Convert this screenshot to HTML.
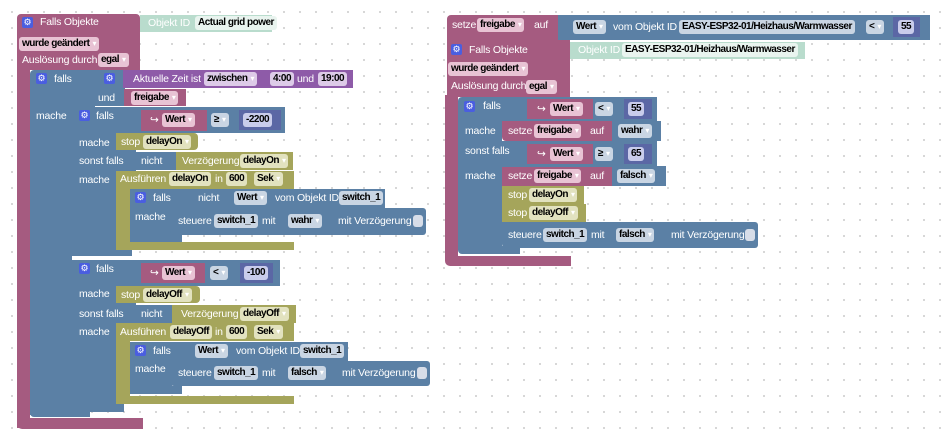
<!DOCTYPE html>
<html><head><meta charset="utf-8"><style>
body{margin:0;width:947px;height:440px;overflow:hidden;background:#fff;background-image:radial-gradient(circle,#cfcfcf 0.8px,transparent 1.2px);background-size:16px 16px;background-position:4px 4px;position:relative;font-family:"Liberation Sans",sans-serif}
.r{position:absolute}
.P{background:#a55b80}.B{background:#5b80a5}.O{background:#a5a55b}.V{background:#8e5ba8}.M{background:#b9dccd}.N{background:#5b67a5}
.t{position:absolute;color:#fff;font-size:10.5px;letter-spacing:-0.2px;line-height:14px;white-space:nowrap}
.f{position:absolute;height:14px;line-height:14px;font-size:10px;letter-spacing:-0.5px;font-weight:bold;color:#000;padding:0 3px;border-radius:3px;white-space:nowrap}
.fp{background:#e8c3d4}.fb{background:#c9d5e3}.fo{background:#e2e2bf}.fv{background:#ddcbe8}.fn{background:#c9cceb}.fm{background:#e9f4ef}
.f i{font-style:normal;font-weight:normal;color:#fff;font-size:8px;margin-left:3px}
.g{position:absolute;width:11px;height:11px;background:#4a5ee0;border-radius:2px;color:#fff;font-size:9px;line-height:11px;text-align:center}
.cb{position:absolute;width:10px;height:12px;background:#d7dde8;border-radius:3px}
</style></head><body>

<!-- LEFT EVENT BLOCK -->
<div class="r P" style="left:17px;top:14px;width:123px;height:56px;border-radius:4px 4px 0 0"></div>
<div class="r P" style="left:17px;top:68px;width:13px;height:360px"></div>
<div class="r P" style="left:17px;top:418px;width:126px;height:11px;border-radius:0 0 0 5px"></div>
<div class="g" style="left:22px;top:17px">⚙</div>
<div class="t" style="left:40px;top:15px">Falls Objekte</div>
<div class="r M" style="left:140px;top:15px;width:132px;height:17px"></div>
<div class="t" style="left:148px;top:16px">Objekt ID</div>
<div class="f fm" style="left:195px;top:16px">Actual grid power</div>
<div class="f fp" style="left:19px;top:37px">wurde geändert<i>▾</i></div>
<div class="t" style="left:22px;top:53px">Auslösung durch</div>
<div class="f fp" style="left:98px;top:53px">egal<i>▾</i></div>

<!-- outer falls -->
<div class="r B" style="left:30px;top:70px;width:65px;height:37px;border-radius:4px 0 0 0"></div>
<div class="r B" style="left:30px;top:105px;width:42px;height:310px"></div>
<div class="r B" style="left:30px;top:409px;width:60px;height:8px;border-radius:0 0 0 4px"></div>
<div class="g" style="left:36px;top:73px">⚙</div>
<div class="t" style="left:54px;top:72px">falls</div>
<div class="t" style="left:36px;top:109px">mache</div>
<!-- und block -->
<div class="r B" style="left:90px;top:70px;width:35px;height:36px"></div>
<div class="g" style="left:104px;top:73px">⚙</div>
<div class="t" style="left:98px;top:91px">und</div>
<div class="r V" style="left:123px;top:70px;width:230px;height:18px"></div>
<div class="t" style="left:133px;top:72px">Aktuelle Zeit ist</div>
<div class="f fv" style="left:204px;top:72px">zwischen<i>▾</i></div>
<div class="f fv" style="left:270px;top:72px">4:00</div>
<div class="t" style="left:297px;top:72px">und</div>
<div class="f fv" style="left:318px;top:72px">19:00</div>
<div class="r P" style="left:124px;top:89px;width:62px;height:17px"></div>
<div class="f fp" style="left:131px;top:91px">freigabe<i>▾</i></div>

<!-- first inner falls -->
<div class="r B" style="left:72px;top:107px;width:213px;height:26px"></div>
<div class="r B" style="left:72px;top:130px;width:44px;height:122px"></div>
<div class="r B" style="left:110px;top:150px;width:26px;height:21px"></div>
<div class="r B" style="left:72px;top:248px;width:60px;height:8px"></div>
<div class="g" style="left:79px;top:110px">⚙</div>
<div class="t" style="left:96px;top:109px">falls</div>
<div class="r P" style="left:141px;top:110px;width:66px;height:21px"></div>
<div class="t" style="left:150px;top:113px">↪</div>
<div class="f fp" style="left:162px;top:113px">Wert<i>▾</i></div>
<div class="f fb" style="left:211px;top:113px">≥<i>▾</i></div>
<div class="r N" style="left:239px;top:110px;width:42px;height:20px"></div>
<div class="f fn" style="left:243px;top:113px">-2200</div>
<div class="t" style="left:79px;top:136px">mache</div>
<div class="r O" style="left:116px;top:133px;width:82px;height:17px;border-radius:0 4px 4px 0"></div>
<div class="t" style="left:121px;top:135px">stop</div>
<div class="f fo" style="left:143px;top:135px">delayOn<i>▾</i></div>
<div class="t" style="left:79px;top:154px">sonst falls</div>
<div class="r B" style="left:133px;top:152px;width:45px;height:18px"></div>
<div class="t" style="left:141px;top:154px">nicht</div>
<div class="r O" style="left:176px;top:152px;width:117px;height:18px"></div>
<div class="t" style="left:182px;top:154px">Verzögerung</div>
<div class="f fo" style="left:240px;top:154px">delayOn<i>▾</i></div>
<div class="t" style="left:79px;top:173px">mache</div>
<div class="r O" style="left:116px;top:171px;width:178px;height:18px"></div>
<div class="r O" style="left:116px;top:186px;width:14px;height:60px"></div>
<div class="r O" style="left:116px;top:242px;width:178px;height:8px"></div>
<div class="t" style="left:120px;top:172px">Ausführen</div>
<div class="f fo" style="left:169px;top:172px">delayOn</div>
<div class="t" style="left:215px;top:172px">in</div>
<div class="f fo" style="left:226px;top:172px">600</div>
<div class="f fo" style="left:254px;top:172px">Sek<i>▾</i></div>
<!-- nested falls 1 -->
<div class="r B" style="left:130px;top:189px;width:255px;height:19px"></div>
<div class="r B" style="left:130px;top:205px;width:42px;height:32px"></div>
<div class="r B" style="left:130px;top:234px;width:52px;height:8px"></div>
<div class="g" style="left:135px;top:192px">⚙</div>
<div class="t" style="left:153px;top:191px">falls</div>
<div class="t" style="left:198px;top:191px">nicht</div>
<div class="f fb" style="left:234px;top:191px">Wert<i>▾</i></div>
<div class="t" style="left:275px;top:191px">vom Objekt ID</div>
<div class="f fb" style="left:339px;top:191px">switch_1</div>
<div class="t" style="left:135px;top:210px">mache</div>
<div class="r B" style="left:170px;top:208px;width:256px;height:27px;border-radius:0 3px 3px 4px"></div>
<div class="t" style="left:178px;top:214px">steuere</div>
<div class="f fb" style="left:214px;top:214px">switch_1</div>
<div class="t" style="left:262px;top:214px">mit</div>
<div class="f fb" style="left:288px;top:214px">wahr<i>▾</i></div>
<div class="t" style="left:338px;top:214px">mit Verzögerung</div>
<div class="cb" style="left:413px;top:215px"></div>

<!-- second inner falls -->
<div class="r B" style="left:72px;top:260px;width:208px;height:26px"></div>
<div class="r B" style="left:72px;top:284px;width:44px;height:122px"></div>
<div class="r B" style="left:110px;top:303px;width:26px;height:21px"></div>
<div class="r B" style="left:72px;top:404px;width:52px;height:8px"></div>
<div class="g" style="left:79px;top:263px">⚙</div>
<div class="t" style="left:96px;top:262px">falls</div>
<div class="r P" style="left:141px;top:263px;width:64px;height:20px"></div>
<div class="t" style="left:150px;top:266px">↪</div>
<div class="f fp" style="left:162px;top:266px">Wert<i>▾</i></div>
<div class="f fb" style="left:210px;top:266px">&lt;<i>▾</i></div>
<div class="r N" style="left:240px;top:263px;width:33px;height:20px"></div>
<div class="f fn" style="left:244px;top:266px">-100</div>
<div class="t" style="left:79px;top:287px">mache</div>
<div class="r O" style="left:116px;top:286px;width:84px;height:17px;border-radius:0 4px 4px 0"></div>
<div class="t" style="left:121px;top:288px">stop</div>
<div class="f fo" style="left:143px;top:288px">delayOff<i>▾</i></div>
<div class="t" style="left:79px;top:307px">sonst falls</div>
<div class="r B" style="left:133px;top:305px;width:42px;height:18px"></div>
<div class="t" style="left:141px;top:307px">nicht</div>
<div class="r O" style="left:172px;top:305px;width:124px;height:18px"></div>
<div class="t" style="left:181px;top:307px">Verzögerung</div>
<div class="f fo" style="left:240px;top:307px">delayOff<i>▾</i></div>
<div class="t" style="left:79px;top:325px">mache</div>
<div class="r O" style="left:116px;top:323px;width:178px;height:18px"></div>
<div class="r O" style="left:116px;top:338px;width:14px;height:62px"></div>
<div class="r O" style="left:116px;top:396px;width:178px;height:8px"></div>
<div class="t" style="left:120px;top:325px">Ausführen</div>
<div class="f fo" style="left:170px;top:325px">delayOff</div>
<div class="t" style="left:215px;top:325px">in</div>
<div class="f fo" style="left:226px;top:325px">600</div>
<div class="f fo" style="left:254px;top:325px">Sek<i>▾</i></div>
<!-- nested falls 2 -->
<div class="r B" style="left:130px;top:342px;width:218px;height:19px"></div>
<div class="r B" style="left:130px;top:358px;width:42px;height:32px"></div>
<div class="r B" style="left:130px;top:386px;width:52px;height:8px"></div>
<div class="g" style="left:135px;top:345px">⚙</div>
<div class="t" style="left:153px;top:344px">falls</div>
<div class="f fb" style="left:195px;top:344px">Wert<i>▾</i></div>
<div class="t" style="left:236px;top:344px">vom Objekt ID</div>
<div class="f fb" style="left:300px;top:344px">switch_1</div>
<div class="t" style="left:135px;top:362px">mache</div>
<div class="r B" style="left:170px;top:361px;width:260px;height:25px;border-radius:0 3px 3px 4px"></div>
<div class="t" style="left:178px;top:366px">steuere</div>
<div class="f fb" style="left:214px;top:366px">switch_1</div>
<div class="t" style="left:262px;top:366px">mit</div>
<div class="f fb" style="left:288px;top:366px">falsch<i>▾</i></div>
<div class="t" style="left:342px;top:366px">mit Verzögerung</div>
<div class="cb" style="left:417px;top:367px"></div>

<!-- RIGHT BLOCK -->
<div class="r P" style="left:447px;top:15px;width:113px;height:25px;border-radius:4px 0 0 0"></div>
<div class="t" style="left:452px;top:18px">setze</div>
<div class="f fp" style="left:477px;top:18px">freigabe<i>▾</i></div>
<div class="t" style="left:534px;top:18px">auf</div>
<div class="r B" style="left:558px;top:15px;width:372px;height:25px"></div>
<div class="f fb" style="left:573px;top:20px">Wert<i>▾</i></div>
<div class="t" style="left:613px;top:20px">vom Objekt ID</div>
<div class="f fb" style="left:679px;top:20px">EASY-ESP32-01/Heizhaus/Warmwasser</div>
<div class="f fb" style="left:866px;top:20px">&lt;<i>▾</i></div>
<div class="r N" style="left:893px;top:17px;width:27px;height:20px"></div>
<div class="f fn" style="left:898px;top:20px">55</div>
<div class="r P" style="left:447px;top:40px;width:123px;height:57px"></div>
<div class="r P" style="left:445px;top:95px;width:13px;height:165px"></div>
<div class="r P" style="left:445px;top:256px;width:126px;height:10px;border-radius:0 0 0 5px"></div>
<div class="g" style="left:451px;top:44px">⚙</div>
<div class="t" style="left:469px;top:43px">Falls Objekte</div>
<div class="r M" style="left:570px;top:42px;width:235px;height:17px"></div>
<div class="t" style="left:578px;top:43px">Objekt ID</div>
<div class="f fm" style="left:622px;top:43px">EASY-ESP32-01/Heizhaus/Warmwasser</div>
<div class="f fp" style="left:448px;top:62px">wurde geändert<i>▾</i></div>
<div class="t" style="left:451px;top:79px">Auslösung durch</div>
<div class="f fp" style="left:526px;top:80px">egal<i>▾</i></div>
<div class="r B" style="left:458px;top:97px;width:199px;height:24px;border-radius:4px 0 0 0"></div>
<div class="r B" style="left:458px;top:120px;width:44px;height:130px"></div>
<div class="r B" style="left:458px;top:246px;width:62px;height:8px;border-radius:0 0 0 4px"></div>
<div class="r B" style="left:500px;top:141px;width:157px;height:26px"></div>
<div class="g" style="left:464px;top:101px">⚙</div>
<div class="t" style="left:483px;top:99px">falls</div>
<div class="r P" style="left:527px;top:99px;width:66px;height:20px"></div>
<div class="t" style="left:537px;top:102px">↪</div>
<div class="f fp" style="left:550px;top:102px">Wert<i>▾</i></div>
<div class="f fb" style="left:595px;top:102px">&lt;<i>▾</i></div>
<div class="r N" style="left:624px;top:99px;width:28px;height:20px"></div>
<div class="f fn" style="left:628px;top:102px">55</div>
<div class="t" style="left:465px;top:124px">mache</div>
<div class="r P" style="left:502px;top:121px;width:112px;height:20px;border-radius:0 0 0 4px"></div>
<div class="t" style="left:508px;top:124px">setze</div>
<div class="f fp" style="left:534px;top:124px">freigabe<i>▾</i></div>
<div class="t" style="left:590px;top:124px">auf</div>
<div class="r B" style="left:612px;top:121px;width:49px;height:20px"></div>
<div class="f fb" style="left:618px;top:124px">wahr<i>▾</i></div>
<div class="t" style="left:465px;top:144px">sonst falls</div>
<div class="r P" style="left:527px;top:144px;width:66px;height:20px"></div>
<div class="t" style="left:537px;top:147px">↪</div>
<div class="f fp" style="left:550px;top:147px">Wert<i>▾</i></div>
<div class="f fb" style="left:595px;top:147px">≥<i>▾</i></div>
<div class="r N" style="left:624px;top:144px;width:28px;height:20px"></div>
<div class="f fn" style="left:628px;top:147px">65</div>
<div class="t" style="left:465px;top:169px">mache</div>
<div class="r P" style="left:502px;top:167px;width:112px;height:19px"></div>
<div class="t" style="left:508px;top:169px">setze</div>
<div class="f fp" style="left:534px;top:169px">freigabe<i>▾</i></div>
<div class="t" style="left:590px;top:169px">auf</div>
<div class="r B" style="left:612px;top:166px;width:54px;height:20px"></div>
<div class="f fb" style="left:617px;top:169px">falsch<i>▾</i></div>
<div class="r O" style="left:502px;top:186px;width:82px;height:18px"></div>
<div class="t" style="left:508px;top:188px">stop</div>
<div class="f fo" style="left:529px;top:188px">delayOn<i>▾</i></div>
<div class="r O" style="left:502px;top:204px;width:84px;height:18px"></div>
<div class="t" style="left:508px;top:206px">stop</div>
<div class="f fo" style="left:529px;top:206px">delayOff<i>▾</i></div>
<div class="r B" style="left:502px;top:222px;width:256px;height:26px;border-radius:0 3px 3px 4px"></div>
<div class="t" style="left:508px;top:228px">steuere</div>
<div class="f fb" style="left:543px;top:228px">switch_1</div>
<div class="t" style="left:591px;top:228px">mit</div>
<div class="f fb" style="left:616px;top:228px">falsch<i>▾</i></div>
<div class="t" style="left:671px;top:228px">mit Verzögerung</div>
<div class="cb" style="left:745px;top:229px"></div>
</body></html>
